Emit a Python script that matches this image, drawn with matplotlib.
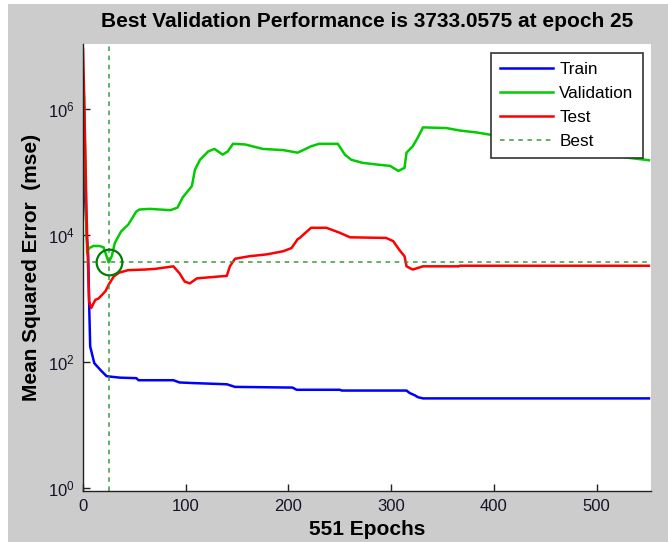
import matplotlib
matplotlib.use("Agg")
import matplotlib.pyplot as plt
from matplotlib.patches import Rectangle
from matplotlib.ticker import FixedLocator, NullLocator

plt.rcParams['font.family'] = ['Liberation Sans', 'DejaVu Sans']
plt.rcParams['mathtext.default'] = 'regular'

# values (epoch, mse)
train_epochs = [0, 1, 2, 4, 5, 6, 7, 11, 17, 23, 36, 52, 54, 88, 94, 107, 140, 148,
                204, 208, 250, 252, 315, 318, 323, 326, 331, 551]
train_mse = [275000, 110000, 40000, 8000, 5000, 800, 174, 95, 74, 59, 56, 55, 51, 51, 47, 46, 44, 40,
             39, 36, 36, 35, 35, 32, 29.5, 27.5, 26.3, 26.3]

val_epochs = [0, 1, 2, 3, 4, 6, 10, 16, 20, 25, 28, 31, 37, 44, 52, 55, 65, 85, 92, 97,
              106, 109, 114, 122, 128, 136, 141, 146, 158, 175, 195, 209, 222, 230, 248,
              255, 261, 272, 287, 299, 307, 313, 315, 321, 326, 331, 354, 367, 383, 398,
              530, 551]
val_mse = [2950000, 1600000, 250000, 25000, 5250, 6300, 6800, 6800, 6500, 3733.0575, 4700,
           7600, 11500, 14800, 24000, 25700, 26300, 25100, 27500, 39800,
           60300, 110000, 158000, 214000, 234000, 190000, 214000, 282000, 275000, 234000,
           224000, 204000, 257000, 282000, 282000,
           190000, 158000, 141000, 132000, 126000, 105000, 117000, 204000, 257000, 355000,
           513000, 500000, 457000, 427000, 389000, 170000, 155000]

test_epochs = [0, 1, 2, 3, 4, 5, 6, 8, 12, 15, 18, 22, 25, 30, 35, 44, 60, 70, 88, 94, 99,
               104, 111, 140, 143, 148, 162, 179, 195, 203, 209, 211, 222, 237, 250, 260,
               295, 302, 308, 313, 315, 321, 331, 366, 367, 551]
test_mse = [8900000, 2000000, 300000, 50000, 10000, 3000, 900, 710, 955, 1000, 1120, 1320,
            1660, 2240, 2570, 2820, 2880, 2950, 3240, 2510, 1860,
            1740, 2090, 2290, 3240, 4270, 4680, 5010, 5620, 6310, 8710, 9120, 13200, 13200,
            11000, 9330, 9120, 8130, 5890, 4680, 3240, 2880, 3240, 3240, 3310, 3310]

best_epoch = 25
best_perf = 3733.0575
n_epochs = 551

x_ticks = [0, 100, 200, 300, 400, 500]
y_ticks = [1e0, 1e2, 1e4, 1e6]

fig = plt.figure(figsize=(6.68, 5.42), dpi=100, facecolor='#cccccc')
# white border of the screenshot (left and top)
fig.patches.append(Rectangle((0, 0), 8 / 668, 1, transform=fig.transFigure,
                             facecolor='white', edgecolor='none', zorder=-1))
fig.patches.append(Rectangle((0, 1 - 4 / 542), 1, 4 / 542, transform=fig.transFigure,
                             facecolor='white', edgecolor='none', zorder=-1))

ax = fig.add_axes([83 / 668, 1 - 491 / 542, 568 / 668, 447 / 542])
ax.set_facecolor('white')

ax.plot(train_epochs, train_mse, color=(0, 0, 1), lw=1.8, label='Train')
ax.plot(val_epochs, val_mse, color=(0, 0.8, 0), lw=1.8, label='Validation')
ax.plot(test_epochs, test_mse, color=(1, 0, 0), lw=1.8, label='Test')
ax.axhline(best_perf, color='#3a9a3a', lw=1.1, ls=(0, (3, 3)), label='Best')
ax.axvline(best_epoch, color='#3a9a3a', lw=1.1, ls=(0, (3, 3)))
ax.plot([best_epoch], [best_perf], 'o', ms=18.5, mfc='none', mec=(0, 0.5, 0), mew=1.6)

ax.set_yscale('log')
ax.set_xlim(0, 553)
ax.set_ylim(10 ** -0.046, 10 ** 7.03)
ax.xaxis.set_major_locator(FixedLocator(x_ticks))
ax.yaxis.set_major_locator(FixedLocator(y_ticks))
ax.yaxis.set_minor_locator(NullLocator())

for side in ['top', 'right']:
    ax.spines[side].set_visible(False)
for side in ['left', 'bottom']:
    ax.spines[side].set_color('#222222')
    ax.spines[side].set_linewidth(1.0)

ax.tick_params(direction='in', length=5, width=1, labelsize=12, colors='#222222',
               labelcolor='#141428', pad=6)

ax.set_title('Best Validation Performance is %.4f at epoch %d' % (best_perf, best_epoch),
             fontsize=15, fontweight='bold', pad=12)
ax.set_xlabel('%d Epochs' % n_epochs, fontsize=15, fontweight='bold', labelpad=4)
ax.set_ylabel('Mean Squared Error  (mse)', fontsize=15, fontweight='bold', labelpad=5)

leg = ax.legend(loc='upper right', bbox_to_anchor=(0.986, 0.980), borderaxespad=0,
                fontsize=12.3, handlelength=3.1, handletextpad=0.35, labelspacing=0.52,
                fancybox=False, framealpha=1, edgecolor='#333333', borderpad=0.55)
leg.get_frame().set_linewidth(1.2)

fig.savefig('out.png', dpi=100, facecolor=fig.get_facecolor())
